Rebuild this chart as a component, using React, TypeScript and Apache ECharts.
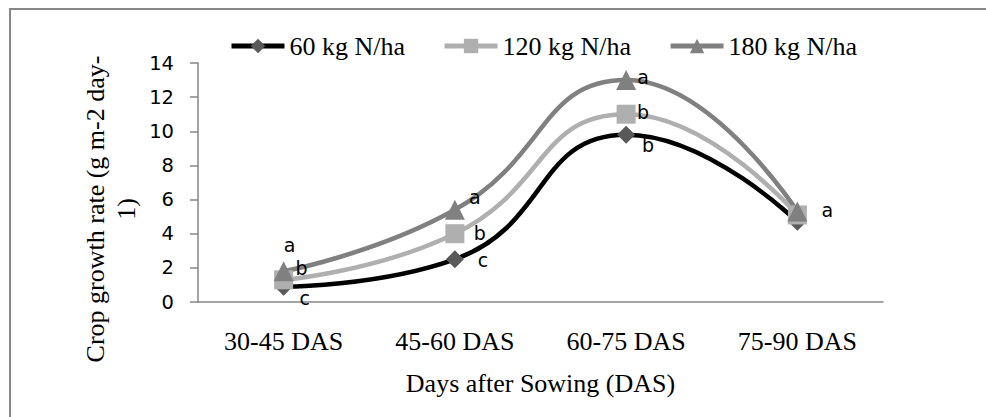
import React, { useEffect, useRef } from "react";
import * as echarts from "echarts";

const categories = ["30-45 DAS", "45-60 DAS", "60-75 DAS", "75-90 DAS"];
const seriesNames = ["60 kg N/ha", "120 kg N/ha", "180 kg N/ha"];
const n60 = [0.9, 2.5, 9.8, 4.7];
const n120 = [1.3, 4.0, 11.0, 5.1];
const n180 = [1.8, 5.4, 13.0, 5.3];
const sig60 = ["c", "c", "b", ""];
const sig120 = ["b", "b", "b", ""];
const sig180 = ["a", "a", "a", "a"];

// label offsets (styling)
const off60 = [[21, 11], [28, 1], [22, 10], [0, 0]];
const off120 = [[18, -12], [25, -1], [17, -2], [0, 0]];
const off180 = [[6, -26], [20, -13], [17, -3], [30, -2]];

const SERIF = "'Liberation Serif', 'Times New Roman', serif";
const SANS = "'DejaVu Sans', sans-serif";

function buildData(vals: number[], sig: string[], off: number[][]) {
  return vals.map((v, i) => ({
    value: v,
    label: {
      show: sig[i] !== "",
      formatter: sig[i],
      position: "inside",
      offset: off[i],
      align: "center",
      verticalAlign: "middle",
      fontFamily: SANS,
      fontSize: 19,
      color: "#000",
    },
  }));
}

export default function App() {
  const ref = useRef<HTMLDivElement>(null);
  useEffect(() => {
    if (!ref.current) return;
    const chart = echarts.init(ref.current, undefined, { renderer: "svg" });
    const mk = (
      name: string,
      vals: number[],
      sig: string[],
      off: number[][],
      lineColor: string,
      markColor: string,
      symbol: string,
      size: number
    ) => ({
      type: "line",
      name,
      data: buildData(vals, sig, off),
      smooth: 0.5,
      symbol,
      symbolSize: size,
      showAllSymbol: true,
      lineStyle: { color: lineColor, width: 4.5 },
      itemStyle: { color: markColor, borderWidth: 0 },
      label: { show: false },
    });
    chart.setOption({
      animation: false,
      backgroundColor: "#fff",
      grid: { left: 198, top: 63, width: 685, height: 239, containLabel: false },
      legend: {
        left: 224,
        top: 28,
        itemWidth: 53,
        itemHeight: 18,
        itemGap: 37,
        data: seriesNames,
        lineStyle: { width: 5 },
        textStyle: { fontFamily: SERIF, fontSize: 26, color: "#000" },
      },
      xAxis: {
        type: "category",
        data: categories,
        boundaryGap: true,
        axisLine: { lineStyle: { color: "#868686", width: 1.5 } },
        axisTick: { show: false },
        axisLabel: { fontFamily: SERIF, fontSize: 26, color: "#000", margin: 26, interval: 0 },
        name: "Days after Sowing (DAS)",
        nameLocation: "middle",
        nameGap: 68,
        nameTextStyle: { fontFamily: SERIF, fontSize: 26, color: "#000" },
      },
      yAxis: {
        type: "value",
        min: 0,
        max: 14,
        interval: 2,
        axisLine: { show: true, lineStyle: { color: "#868686", width: 1.5 } },
        axisTick: { show: true, length: 8, lineStyle: { color: "#868686", width: 1.5 } },
        splitLine: { show: false },
        axisLabel: { fontFamily: SANS, fontSize: 19.5, color: "#000", margin: 24 },
      },
      graphic: [
        {
          type: "rect",
          shape: { x: 10, y: 9, width: 1000, height: 430 },
          style: { fill: "none", stroke: "#868686", lineWidth: 2 },
          silent: true,
        },
        {
          type: "text",
          x: 111,
          y: 209,
          rotation: Math.PI / 2,
          style: {
            text: "Crop growth rate (g m-2 day-\n1)",
            fontFamily: SERIF,
            fontSize: 26,
            lineHeight: 31,
            fill: "#000",
            align: "center",
            verticalAlign: "middle",
          },
        },
      ],
      series: [
        mk(seriesNames[0], n60, sig60, off60, "#000000", "#595959", "diamond", 18),
        mk(seriesNames[1], n120, sig120, off120, "#afafaf", "#afafaf", "rect", 19),
        mk(seriesNames[2], n180, sig180, off180, "#808080", "#808080", "triangle", 20),
      ],
    });
    return () => chart.dispose();
  }, []);
  return (
    <div
      ref={ref}
      style={{ position: "fixed", left: 0, top: 0, width: 986, height: 417, background: "#fff" }}
    />
  );
}
